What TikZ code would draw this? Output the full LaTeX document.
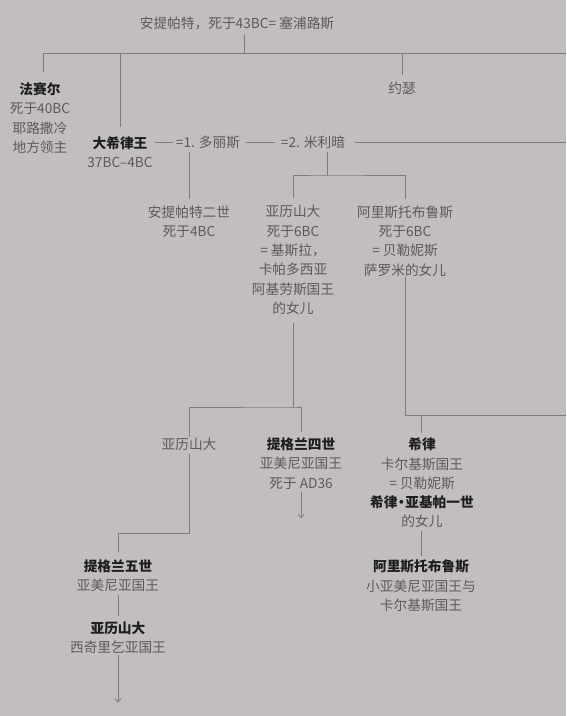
\documentclass[tikz,border=0pt]{standalone}
\usepackage{fontspec}
\setmainfont{Noto Sans CJK SC}
\usepackage{xcolor}
\usetikzlibrary{arrows.meta}
\definecolor{hgrund}{HTML}{C2BEBE}
\definecolor{htext}{HTML}{5C5A5A}
\definecolor{hname}{HTML}{1E1E1E}
\definecolor{hlinie}{HTML}{7E7B7B}
\newcommand{\hname}[1]{\textcolor{hname}{\bfseries #1}}

\begin{document}
\begin{tikzpicture}[x=1pt, y=-1pt, >={Straight Barb[length=3.5pt,width=6pt]},
  person/.style={align=center, inner sep=0pt, text=htext,
    font=\fontsize{13.7}{19.3}\selectfont},
  linie/.style={draw=hlinie, line width=0.8pt}]
  % Hintergrund
  \fill[hgrund] (0,0) rectangle (566,716);
  \useasboundingbox (0,0) rectangle (566,716);

  % Stammvater
  \node[person] (antipater) at (237,23) {安提帕特，死于43BC= 塞浦路斯};
  \coordinate (bar) at (244,53);
  \coordinate (barR) at (566,53);

  % Söhne
  \node[person] (phasael) at (40,118) {\hname{法赛尔}\\死于40BC\\耶路撒冷\\地方领主};
  \node[person] (herod) at (120,152.5) {\hname{大希律王}\\37BC–4BC};
  \node[person] (joseph) at (402,88) {约瑟};

  \draw[linie] ([xshift=7pt,yshift=-4pt]antipater.south) -- (bar);
  \draw[linie] ([xshift=3pt,yshift=10pt]phasael.north) |- (barR);
  \draw[linie] ([yshift=10pt]herod.north) -- (herod.north |- bar);
  \draw[linie] ([yshift=7pt]joseph.north) -- (joseph.north |- bar);

  % Ehefrauen
  \node[person] (doris) at (208,142) {=1. 多丽斯};
  \node[person] (mariamne) at (313,142) {=2. 米利暗};
  \draw[linie] ([xshift=-3pt]doris.west) -- ([xshift=-21pt]doris.west);
  \draw[linie] ([xshift=6pt]doris.east) -- ([xshift=-6pt]mariamne.west);
  \draw[linie] ([xshift=10pt]mariamne.east) -- (mariamne.east -| barR);

  % Kinder des Herodes
  \node[person] (antipater2) at (189,222) {安提帕特二世\\死于4BC};
  \node[person] (alexander) at (293,260) {亚历山大\\死于6BC\\= 基斯拉，\\卡帕多西亚\\阿基劳斯国王\\的女儿};
  \node[person] (aristobulus) at (405,241) {阿里斯托布鲁斯\\死于6BC\\= 贝勒妮斯\\萨罗米的女儿};
  \coordinate (jm) at (327,175);

  \draw[linie] ([xshift=-19pt,yshift=-3pt]doris.south) -- ([yshift=7pt]antipater2.north);
  \draw[linie] ([xshift=14pt,yshift=-3pt]mariamne.south) -- (jm);
  \draw[linie] ([yshift=7pt]alexander.north) |- (jm) -| ([yshift=7pt]aristobulus.north);

  % Enkel
  \node[person] (alexander2) at (189,444) {亚历山大};
  \node[person] (tigranes4) at (301,463.5) {\hname{提格兰四世}\\亚美尼亚国王\\死于 AD36};
  \node[person] (herodchalcis) at (422,483) {\hname{希律}\\卡尔基斯国王\\= 贝勒妮斯\\\hname{希律\kern-3pt·\kern-3pt亚基帕一世}\\的女儿};
  \coordinate (ja) at (293,407);

  \draw[linie] ([yshift=-8pt]alexander.south) -- (ja);
  \draw[linie] ([yshift=1pt]alexander2.north) |- (ja) -| ([yshift=6pt]tigranes4.north);
  \draw[linie,->] ([yshift=-3pt]tigranes4.south) -- ++(0,26);
  \draw[linie] ([yshift=-1pt]aristobulus.south) |- ++(161,138);
  \draw[linie] ([xshift=-1pt,yshift=5pt]herodchalcis.north) -- ++(0,-17);

  % Urenkel
  \node[person] (tigranes5) at (118,575.5) {\hname{提格兰五世}\\亚美尼亚国王};
  \node[person] (alexander3) at (118,637.5) {\hname{亚历山大}\\西奇里乞亚国王};
  \node[person] (aristobulus2) at (421,586) {\hname{阿里斯托布鲁斯}\\小亚美尼亚国王与\\卡尔基斯国王};

  \draw[linie] ([yshift=-4pt]alexander2.south) -- ++(0,79) -| ([yshift=7pt]tigranes5.north);
  \draw[linie] ([yshift=-3pt]tigranes5.south) -- ([yshift=5pt]alexander3.north);
  \draw[linie,->] ([yshift=-1pt]alexander3.south) -- ++(0,48);
  \draw[linie] ([xshift=-1pt,yshift=-3pt]herodchalcis.south) -- ([yshift=4pt]aristobulus2.north);
\end{tikzpicture}
\end{document}
